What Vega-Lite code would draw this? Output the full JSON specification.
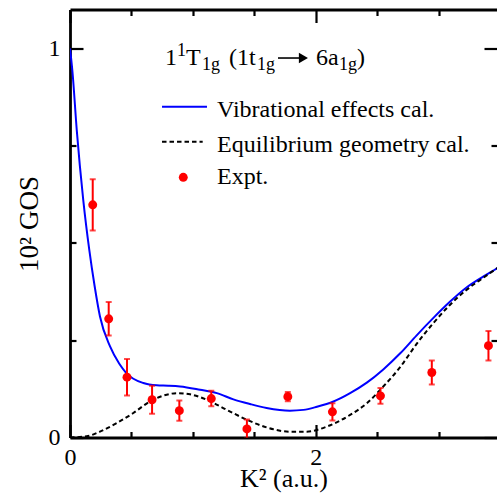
{
  "$schema": "https://vega.github.io/schema/vega-lite/v6.json",
  "autosize": "none",
  "width": 427,
  "height": 428,
  "padding": {"left": 70, "top": 9.5, "right": 0, "bottom": 57.5},
  "background": "white",
  "config": {
    "font": "Liberation Serif",
    "view": {"stroke": null},
    "axis": {
      "labelFont": "Liberation Serif",
      "titleFont": "Liberation Serif",
      "labelFontSize": 24,
      "titleFontSize": 26,
      "titleFontWeight": "normal",
      "labelColor": "black",
      "titleColor": "black",
      "domainColor": "black",
      "tickColor": "black",
      "domainWidth": 2.8,
      "tickWidth": 2.2,
      "grid": false,
      "labelFlush": false
    }
  },
  "datasets": {
    "vib": [
      {"k2": 0, "gos": 1.0}, {"k2": 0.02, "gos": 0.94}, {"k2": 0.055, "gos": 0.79},
      {"k2": 0.108, "gos": 0.61}, {"k2": 0.157, "gos": 0.482}, {"k2": 0.2, "gos": 0.39},
      {"k2": 0.244, "gos": 0.311}, {"k2": 0.326, "gos": 0.234}, {"k2": 0.4, "gos": 0.19},
      {"k2": 0.46, "gos": 0.165}, {"k2": 0.597, "gos": 0.14}, {"k2": 0.706, "gos": 0.134},
      {"k2": 0.8, "gos": 0.133}, {"k2": 0.896, "gos": 0.131}, {"k2": 1.059, "gos": 0.1225},
      {"k2": 1.195, "gos": 0.114}, {"k2": 1.33, "gos": 0.098}, {"k2": 1.466, "gos": 0.086},
      {"k2": 1.6, "gos": 0.076}, {"k2": 1.79, "gos": 0.069}, {"k2": 1.9, "gos": 0.071},
      {"k2": 2.01, "gos": 0.079}, {"k2": 2.145, "gos": 0.0925}, {"k2": 2.28, "gos": 0.114},
      {"k2": 2.416, "gos": 0.141}, {"k2": 2.55, "gos": 0.175}, {"k2": 2.69, "gos": 0.217},
      {"k2": 2.82, "gos": 0.262}, {"k2": 2.96, "gos": 0.308}, {"k2": 3.09, "gos": 0.348},
      {"k2": 3.23, "gos": 0.386}, {"k2": 3.366, "gos": 0.414}, {"k2": 3.476, "gos": 0.435},
      {"k2": 3.5, "gos": 0.44}
    ],
    "eq": [
      {"k2": 0, "gos": 0.0}, {"k2": 0.136, "gos": 0.003}, {"k2": 0.244, "gos": 0.015},
      {"k2": 0.38, "gos": 0.037}, {"k2": 0.516, "gos": 0.063}, {"k2": 0.65, "gos": 0.0925},
      {"k2": 0.787, "gos": 0.11}, {"k2": 0.87, "gos": 0.114}, {"k2": 0.977, "gos": 0.111},
      {"k2": 1.113, "gos": 0.097}, {"k2": 1.276, "gos": 0.071}, {"k2": 1.44, "gos": 0.0455},
      {"k2": 1.6, "gos": 0.026}, {"k2": 1.79, "gos": 0.015}, {"k2": 1.927, "gos": 0.015},
      {"k2": 2.09, "gos": 0.028}, {"k2": 2.28, "gos": 0.058}, {"k2": 2.416, "gos": 0.088},
      {"k2": 2.55, "gos": 0.131}, {"k2": 2.69, "gos": 0.182}, {"k2": 2.82, "gos": 0.24},
      {"k2": 2.96, "gos": 0.295}, {"k2": 3.09, "gos": 0.34}, {"k2": 3.23, "gos": 0.38},
      {"k2": 3.366, "gos": 0.411}, {"k2": 3.476, "gos": 0.435}, {"k2": 3.5, "gos": 0.44}
    ],
    "expt": [
      {"k2": 0.185, "gos": 0.598, "err": 0.066},
      {"k2": 0.315, "gos": 0.305, "err": 0.043},
      {"k2": 0.464, "gos": 0.155, "err": 0.047},
      {"k2": 0.668, "gos": 0.097, "err": 0.036},
      {"k2": 0.89, "gos": 0.069, "err": 0.026},
      {"k2": 1.15, "gos": 0.1, "err": 0.02},
      {"k2": 1.44, "gos": 0.022, "err": 0.024},
      {"k2": 1.773, "gos": 0.105, "err": 0.012},
      {"k2": 2.136, "gos": 0.066, "err": 0.022},
      {"k2": 2.527, "gos": 0.107, "err": 0.02},
      {"k2": 2.945, "gos": 0.167, "err": 0.031},
      {"k2": 3.406, "gos": 0.236, "err": 0.038}
    ]
  },
  "data": {"values": [{}]},
  "resolve": {"axis": {"x": "independent", "y": "independent"}},
  "layer": [
    {
      "data": {"name": "vib"},
      "mark": {"type": "line", "color": "#0000ff", "strokeWidth": 2, "interpolate": "monotone", "clip": true},
      "encoding": {
        "x": {"field": "k2", "type": "quantitative", "scale": {"domain": [0, 3.4756], "nice": false},
          "axis": {"orient": "bottom", "values": [0, 2], "format": "d", "tickSize": -13, "labelPadding": 21, "title": "K² (a.u.)", "titlePadding": -4}},
        "y": {"field": "gos", "type": "quantitative", "scale": {"domain": [0, 1.1], "nice": false},
          "axis": {"orient": "left", "values": [0, 1], "format": "d", "tickSize": -13, "labelPadding": 23, "title": "10² GOS", "titlePadding": 5, "titleFontSize": 27}}
      }
    },
    {
      "data": {"name": "eq"},
      "mark": {"type": "line", "color": "black", "strokeWidth": 2, "strokeDash": [4.5, 3], "interpolate": "monotone", "clip": true},
      "encoding": {
        "x": {"field": "k2", "type": "quantitative", "scale": {"domain": [0, 3.4756], "nice": false},
          "axis": {"orient": "bottom", "values": [0.5, 1, 1.5, 2.5, 3], "tickSize": -6, "labels": false, "domain": false, "title": null}},
        "y": {"field": "gos", "type": "quantitative", "scale": {"domain": [0, 1.1], "nice": false},
          "axis": {"orient": "left", "values": [0.25, 0.5, 0.75], "tickSize": -6, "labels": false, "domain": false, "title": null}}
      }
    },
    {
      "data": {"name": "expt"},
      "mark": {"type": "errorbar", "color": "#ff0000", "thickness": 2, "ticks": {"size": 6, "thickness": 2, "color": "#ff0000"}, "clip": true},
      "encoding": {
        "x": {"field": "k2", "type": "quantitative", "scale": {"domain": [0, 3.4756], "nice": false}, "axis": null},
        "y": {"field": "gos", "type": "quantitative", "scale": {"domain": [0, 1.1], "nice": false}, "axis": null},
        "yError": {"field": "err"}
      }
    },
    {
      "data": {"name": "expt"},
      "mark": {"type": "point", "filled": true, "color": "#ff0000", "opacity": 1, "size": 80},
      "encoding": {
        "x": {"field": "k2", "type": "quantitative", "scale": {"domain": [0, 3.4756], "nice": false},
          "axis": {"orient": "top", "values": [0, 2], "tickSize": -13, "labels": false, "title": null}},
        "y": {"field": "gos", "type": "quantitative", "scale": {"domain": [0, 1.1], "nice": false},
          "axis": {"orient": "right", "values": [0, 1], "tickSize": -13, "labels": false, "domain": false, "title": null}}
      }
    },
    {
      "mark": {"type": "rule", "color": "#0000ff", "strokeWidth": 2},
      "encoding": {
        "x": {"datum": 0.749, "type": "quantitative", "scale": {"domain": [0, 3.4756], "nice": false},
          "axis": {"orient": "top", "values": [0.5, 1, 1.5, 2.5, 3], "tickSize": -6, "labels": false, "domain": false, "title": null}},
        "x2": {"datum": 1.115},
        "y": {"datum": 0.8502, "type": "quantitative", "scale": {"domain": [0, 1.1], "nice": false},
          "axis": {"orient": "right", "values": [0.25, 0.5, 0.75], "tickSize": -6, "labels": false, "domain": false, "title": null}}
      }
    },
    {
      "mark": {"type": "rule", "color": "black", "strokeWidth": 2, "strokeDash": [4.5, 3]},
      "encoding": {
        "x": {"datum": 0.749, "type": "quantitative", "axis": null},
        "x2": {"datum": 1.08},
        "y": {"datum": 0.7602, "type": "quantitative", "axis": null}
      }
    },
    {
      "mark": {"type": "point", "filled": true, "color": "#ff0000", "opacity": 1, "size": 80},
      "encoding": {
        "x": {"datum": 0.922, "type": "quantitative", "axis": null},
        "y": {"datum": 0.6687, "type": "quantitative", "axis": null}
      }
    },
    {
      "mark": {"type": "text", "text": "Vibrational effects cal.", "font": "Liberation Serif", "fontSize": 24, "align": "left", "baseline": "alphabetic", "color": "black"},
      "encoding": {
        "x": {"datum": 1.1965, "type": "quantitative", "axis": null},
        "y": {"datum": 0.8245, "type": "quantitative", "axis": null}
      }
    },
    {
      "mark": {"type": "text", "text": "Equilibrium geometry cal.", "font": "Liberation Serif", "fontSize": 24, "align": "left", "baseline": "alphabetic", "color": "black"},
      "encoding": {
        "x": {"datum": 1.1965, "type": "quantitative", "axis": null},
        "y": {"datum": 0.7345, "type": "quantitative", "axis": null}
      }
    },
    {
      "mark": {"type": "text", "text": "Expt.", "font": "Liberation Serif", "fontSize": 24, "align": "left", "baseline": "alphabetic", "color": "black"},
      "encoding": {
        "x": {"datum": 1.1965, "type": "quantitative", "axis": null},
        "y": {"datum": 0.6515, "type": "quantitative", "axis": null}
      }
    },
    {
      "mark": {"type": "text", "text": "1", "font": "Liberation Serif", "fontSize": 24, "align": "left", "baseline": "alphabetic", "color": "black"},
      "encoding": {"x": {"datum": 0.7733, "type": "quantitative", "axis": null}, "y": {"datum": 0.9574, "type": "quantitative", "axis": null}}
    },
    {
      "mark": {"type": "text", "text": "1", "font": "Liberation Serif", "fontSize": 18, "align": "left", "baseline": "alphabetic", "color": "black"},
      "encoding": {"x": {"datum": 0.8709, "type": "quantitative", "axis": null}, "y": {"datum": 0.9805, "type": "quantitative", "axis": null}}
    },
    {
      "mark": {"type": "text", "text": "T", "font": "Liberation Serif", "fontSize": 24, "align": "left", "baseline": "alphabetic", "color": "black"},
      "encoding": {"x": {"datum": 0.9442, "type": "quantitative", "axis": null}, "y": {"datum": 0.9574, "type": "quantitative", "axis": null}}
    },
    {
      "mark": {"type": "text", "text": "1g", "font": "Liberation Serif", "fontSize": 18, "align": "left", "baseline": "alphabetic", "color": "black"},
      "encoding": {"x": {"datum": 1.0744, "type": "quantitative", "axis": null}, "y": {"datum": 0.9445, "type": "quantitative", "axis": null}}
    },
    {
      "mark": {"type": "text", "text": "(1t", "font": "Liberation Serif", "fontSize": 24, "align": "left", "baseline": "alphabetic", "color": "black"},
      "encoding": {"x": {"datum": 1.2942, "type": "quantitative", "axis": null}, "y": {"datum": 0.9574, "type": "quantitative", "axis": null}}
    },
    {
      "mark": {"type": "text", "text": "1g", "font": "Liberation Serif", "fontSize": 18, "align": "left", "baseline": "alphabetic", "color": "black"},
      "encoding": {"x": {"datum": 1.5221, "type": "quantitative", "axis": null}, "y": {"datum": 0.9445, "type": "quantitative", "axis": null}}
    },
    {
      "mark": {"type": "rule", "color": "black", "strokeWidth": 1.6},
      "encoding": {
        "x": {"datum": 1.693, "type": "quantitative", "axis": null},
        "x2": {"datum": 1.87},
        "y": {"datum": 0.9753, "type": "quantitative", "axis": null}
      }
    },
    {
      "mark": {"type": "point", "shape": "triangle-right", "filled": true, "color": "black", "opacity": 1, "size": 110},
      "encoding": {
        "x": {"datum": 1.9, "type": "quantitative", "axis": null},
        "y": {"datum": 0.9753, "type": "quantitative", "axis": null}
      }
    },
    {
      "mark": {"type": "text", "text": "6a", "font": "Liberation Serif", "fontSize": 24, "align": "left", "baseline": "alphabetic", "color": "black"},
      "encoding": {"x": {"datum": 2.0023, "type": "quantitative", "axis": null}, "y": {"datum": 0.9574, "type": "quantitative", "axis": null}}
    },
    {
      "mark": {"type": "text", "text": "1g", "font": "Liberation Serif", "fontSize": 18, "align": "left", "baseline": "alphabetic", "color": "black"},
      "encoding": {"x": {"datum": 2.1895, "type": "quantitative", "axis": null}, "y": {"datum": 0.9445, "type": "quantitative", "axis": null}}
    },
    {
      "mark": {"type": "text", "text": ")", "font": "Liberation Serif", "fontSize": 24, "align": "left", "baseline": "alphabetic", "color": "black"},
      "encoding": {"x": {"datum": 2.336, "type": "quantitative", "axis": null}, "y": {"datum": 0.9574, "type": "quantitative", "axis": null}}
    }
  ]
}
